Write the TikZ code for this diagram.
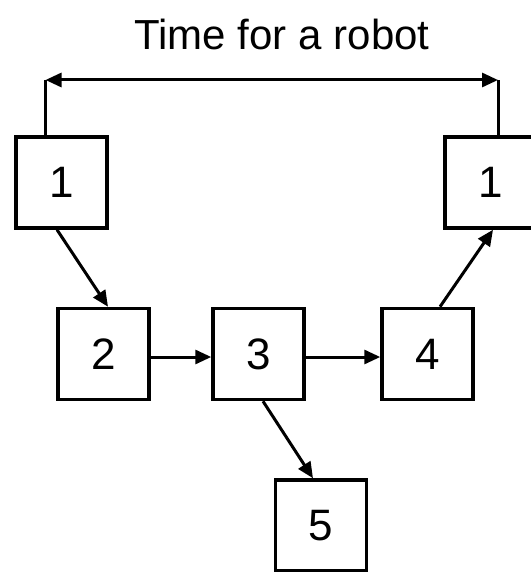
\documentclass[tikz,border=0pt]{standalone}
\usepackage{fontspec}
\setmainfont{Liberation Sans}
\usetikzlibrary{arrows.meta}
\begin{document}
\begin{tikzpicture}[x=1pt,y=-1pt,
  box/.style={draw=black,line width=3.5pt,minimum width=91pt,minimum height=91pt,inner sep=0pt,font=\fontsize{44}{50}\selectfont},
  conn/.style={line width=3pt,-{Triangle[length=16pt,width=14pt]}},
  dconn/.style={line width=3pt,{Triangle[length=16pt,width=14pt]}-{Triangle[length=16pt,width=14pt]}},
  plain/.style={line width=3pt}]
\useasboundingbox (0,0) rectangle (530,572);
\fill[white] (0,0) rectangle (530,572);
\node[font=\fontsize{42}{48}\selectfont] (title) at (282,34) {Time for a robot};
\node[box] (n1a) at (61.5,182.5) {1};
\node[box] (n2) at (103.5,354) {2};
\node[box] (n3) at (258.5,354) {3};
\node[box] (n4) at (427.5,354) {4};
\node[box] (n1b) at (490.5,182.5) {1};
\node[box] (n5) at (321,525.5) {5};
\coordinate (cl) at (45.5,80);
\coordinate (cr) at (498,80);
\draw[plain] ([xshift=-16pt]n1a.north) -- (cl);
\draw[plain] ([xshift=7.5pt]n1b.north) -- (cr);
\draw[dconn] (cl) -- (cr);
\draw[conn] ([xshift=-4.5pt]n1a.south) -- ([xshift=4.5pt]n2.north);
\draw[conn] ([yshift=-3pt]n2.east) -- ([yshift=-3pt]n3.west);
\draw[conn] ([yshift=-3pt]n3.east) -- ([yshift=-3pt]n4.west);
\draw[conn] ([xshift=4.5pt]n3.south) -- ([xshift=-8pt]n5.north);
\draw[conn] ([xshift=12.5pt]n4.north) -- ([xshift=2.5pt]n1b.south);
\end{tikzpicture}
\end{document}
